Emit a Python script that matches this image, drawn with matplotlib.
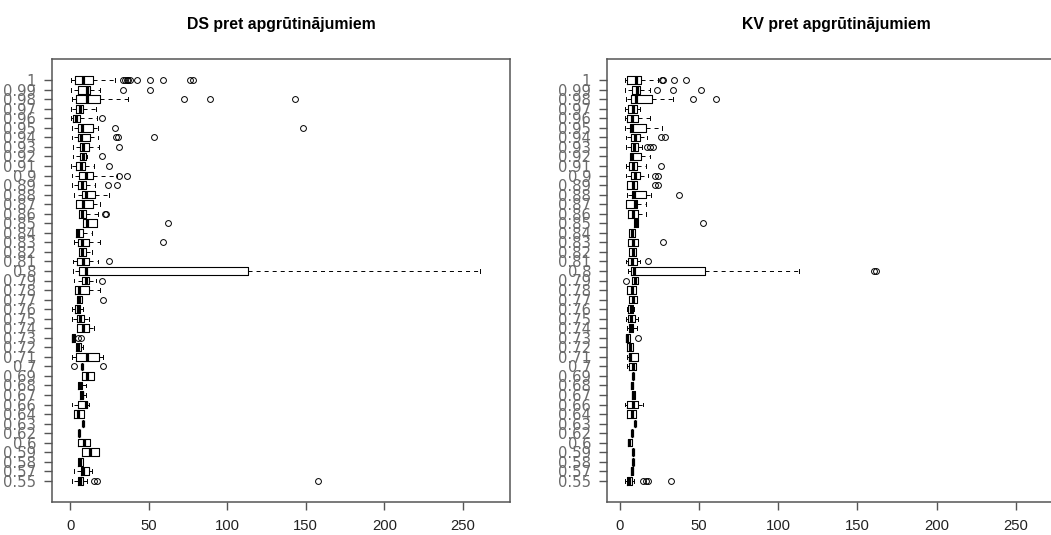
import matplotlib
matplotlib.use("Agg")
import matplotlib.pyplot as plt
from matplotlib import font_manager
from matplotlib.font_manager import FontProperties
from matplotlib.textpath import TextPath

# Threshold values on the vertical axis (bottom to top)
categories = ["0.55", "0.57", "0.58", "0.59", "0.6", "0.62", "0.63", "0.64", "0.66",
              "0.67", "0.68", "0.69", "0.7", "0.71", "0.72", "0.73", "0.74", "0.75",
              "0.76", "0.77", "0.78", "0.79", "0.8", "0.81", "0.82", "0.83", "0.84",
              "0.85", "0.86", "0.87", "0.88", "0.89", "0.9", "0.91", "0.92", "0.93",
              "0.94", "0.95", "0.96", "0.97", "0.98", "0.99", "1"]

# DS: five-number summaries and outliers per threshold
ds_lo  = [1.0, 2.5, 5.3, 7.4, 5.3, 5.9, 8.5, 2.3, 1.0, 6.4, 5.3, 7.8, 7.4, 1.0, 3.8, 1.0, 4.7, 1.0,
          1.0, 4.7, 3.2, 2.5, 2.1, 1.7, 5.9, 2.5, 3.8, 8.5, 5.7, 3.8, 2.5, 1.0, 1.0, 0.4, 1.7, 1.7,
          1.0, 1.0, 0.4, 0.4, 1.0, 0.4, 0.4]
ds_q1  = [4.9, 6.8, 5.3, 7.4, 5.3, 5.9, 8.5, 2.3, 5.3, 6.4, 5.3, 7.8, 7.4, 3.8, 3.8, 1.0, 4.7, 4.7,
          3.2, 4.7, 3.2, 7.4, 5.9, 4.7, 5.9, 5.3, 3.8, 8.5, 5.7, 3.8, 7.4, 5.3, 5.7, 3.8, 6.4, 6.4,
          5.3, 5.3, 2.1, 3.8, 3.8, 5.3, 3.2]
ds_med = [6.4, 8.5, 6.4, 12.7, 9.1, 5.9, 8.5, 5.3, 10.2, 7.4, 6.4, 11.0, 7.4, 11.0, 5.3, 2.1, 8.5, 6.4,
          4.9, 5.9, 5.9, 10.2, 10.0, 8.1, 7.8, 7.4, 5.3, 11.0, 7.4, 8.1, 10.2, 7.4, 10.2, 6.8, 8.1, 8.5,
          6.9, 7.4, 3.8, 6.4, 11.0, 10.6, 8.5]
ds_q3  = [8.3, 11.9, 8.5, 18.7, 12.7, 5.9, 8.5, 9.1, 11.0, 8.5, 7.4, 15.5, 7.4, 18.7, 6.8, 3.2, 12.3, 9.1,
          6.4, 7.4, 12.3, 12.3, 113.2, 11.9, 10.2, 12.3, 8.1, 17.0, 10.2, 14.8, 15.9, 10.2, 14.8, 9.5, 10.2, 12.3,
          12.7, 14.4, 6.4, 8.5, 19.1, 12.7, 14.8]
ds_hi  = [11.0, 13.8, 8.5, 18.7, 12.7, 5.9, 8.5, 9.1, 11.9, 10.2, 10.2, 15.5, 7.4, 21.2, 8.5, 3.2, 15.5, 12.3,
          8.5, 7.4, 19.1, 16.5, 261.0, 18.0, 13.8, 19.1, 13.8, 17.0, 18.0, 19.1, 25.0, 15.9, 29.7, 15.3, 11.0, 18.7,
          18.0, 18.0, 16.9, 16.5, 37.1, 19.1, 28.6]
ds_out = [[15.3, 17.0, 158.0], [], [], [], [], [], [], [], [], [], [], [], [2.5, 21.2], [], [], [4.9, 6.8],
          [], [], [], [20.7], [], [20.1], [], [25.0], [], [59.4], [], [62.5], [22.3, 22.6], [], [],
          [24.4, 29.7], [31.4, 36.0], [25.0], [20.1], [31.4], [29.3, 30.7, 53.4], [28.6, 148.0], [20.1], [],
          [72.3, 89.0, 143.0], [33.5, 50.9],
          [33.9, 35.0, 36.0, 37.0, 38.2, 42.4, 50.9, 59.4, 76.3, 78.4]]

# KV: five-number summaries and outliers per threshold
kv_lo  = [3.5, 7.1, 8.8, 8.8, 5.6, 7.7, 9.8, 4.9, 3.5, 7.7, 7.1, 8.3, 4.9, 4.9, 4.9, 4.1, 4.9, 4.1,
          4.9, 6.0, 4.9, 7.7, 5.6, 4.1, 6.0, 5.6, 6.0, 9.1, 5.6, 4.1, 4.5, 4.9, 4.1, 4.1, 6.6, 4.1,
          4.1, 3.5, 3.5, 3.5, 4.1, 3.5, 3.5]
kv_q1  = [4.9, 7.1, 8.8, 8.8, 5.6, 7.7, 9.8, 4.9, 4.9, 7.7, 7.1, 8.3, 6.0, 6.0, 4.9, 4.1, 6.0, 5.6,
          5.6, 6.0, 4.9, 7.7, 7.1, 5.6, 6.0, 5.6, 6.0, 9.1, 5.6, 4.1, 7.7, 4.9, 7.1, 6.0, 6.6, 7.1,
          7.1, 6.6, 4.9, 5.6, 7.1, 7.7, 4.9]
kv_med = [6.2, 7.7, 8.8, 8.8, 6.2, 7.7, 9.8, 7.7, 8.8, 8.8, 7.7, 8.3, 8.8, 6.6, 6.6, 4.9, 7.1, 7.1,
          7.1, 8.3, 7.7, 9.8, 9.3, 7.7, 8.3, 8.3, 7.7, 10.4, 8.8, 9.8, 9.1, 8.3, 9.8, 8.8, 7.7, 9.1,
          9.8, 7.7, 7.7, 8.3, 10.4, 10.8, 10.4]
kv_q3  = [7.7, 8.8, 8.8, 8.8, 7.7, 7.7, 9.8, 10.4, 11.5, 9.8, 8.8, 8.3, 10.4, 11.5, 8.3, 6.6, 8.8, 9.8,
          8.8, 10.8, 10.4, 11.5, 54.1, 10.8, 10.4, 11.9, 9.8, 11.5, 11.5, 10.8, 16.7, 10.8, 12.7, 10.8, 13.4, 11.5,
          12.7, 16.7, 11.5, 10.8, 20.3, 12.9, 13.4]
kv_hi  = [9.1, 8.8, 8.8, 8.8, 7.7, 7.7, 9.8, 10.4, 14.6, 9.8, 8.8, 8.3, 10.4, 11.5, 8.3, 6.6, 11.0, 11.5,
          9.4, 10.8, 10.4, 11.5, 113.4, 12.9, 10.4, 11.9, 9.8, 11.5, 16.7, 16.7, 19.6, 10.8, 18.1, 16.7, 19.2, 14.0,
          17.5, 26.6, 19.2, 12.9, 33.9, 19.2, 24.5]
kv_out = [[15.0, 16.7, 18.1, 32.5], [], [], [], [], [], [], [], [], [], [], [], [], [], [], [11.5],
          [], [], [], [], [], [4.1], [160.8, 161.6], [18.1], [], [27.2], [], [52.8], [], [], [37.7],
          [22.4, 24.5], [22.4, 24.5], [26.0], [], [17.1, 19.2, 20.9], [26.0, 28.7], [], [], [],
          [46.1, 60.8], [23.8, 33.9, 51.4], [27.0, 27.4, 34.4, 41.9]]

titles = ["DS pret apgrūtinājumiem", "KV pret apgrūtinājumiem"]
x_ticks = [0, 50, 100, 150, 200, 250]

plt.rcParams["font.family"] = ["Liberation Sans", "DejaVu Sans"]
plt.rcParams["lines.scale_dashes"] = False


def label_font(max_size=12.7, target_px=31.0):
    """Narrow sans face for the crowded threshold labels, sized so '0.99' stays compact."""
    narrow = ("condensed", "semi-condensed", "extra-condensed", "ultra-condensed")
    found = {}
    for f in font_manager.fontManager.ttflist:
        if f.style != "normal" or f.weight not in (400, "normal", "regular"):
            continue
        if f.name == "Liberation Sans Narrow" or str(f.stretch) in narrow:
            found.setdefault(f.name, f.fname)
    fp = None
    for name in ["Liberation Sans Narrow", "Liberation Sans", "Open Sans", "Roboto",
                 "Noto Sans", "DejaVu Sans"]:
        if name in found:
            fp = FontProperties(fname=found[name], size=max_size)
            break
    if fp is None:
        fp = FontProperties(family="Liberation Sans", size=max_size)
    width_px = TextPath((0, 0), "0.99", prop=fp).get_extents().width * 100 / 72
    fp.set_size(min(max_size, max_size * target_px / width_px))
    return fp


lab_fp = label_font()

W, H = 1051, 535
fig = plt.figure(figsize=(W / 100, H / 100), dpi=100)

axes_px = [(52, 59, 458, 443), (607, 59, 458, 443)]
xlims = [(-11.5, 280.0), (-7.9, 281.0)]
panels = [(ds_lo, ds_q1, ds_med, ds_q3, ds_hi, ds_out),
          (kv_lo, kv_q1, kv_med, kv_q3, kv_hi, kv_out)]

axis_col = "#555555"
positions = list(range(1, len(categories) + 1))

for (x0, y0, w, h), xl, data, title in zip(axes_px, xlims, panels, titles):
    ax = fig.add_axes([x0 / W, 1 - (y0 + h) / H, w / W, h / H])
    lo, q1, med, q3, hi, out = data
    stats = [dict(whislo=a, q1=b, med=c, q3=d, whishi=e, fliers=f)
             for a, b, c, d, e, f in zip(lo, q1, med, q3, hi, out)]
    ax.bxp(stats, positions=positions, orientation="horizontal", widths=0.8,
           capwidths=0.4, manage_ticks=False, patch_artist=False,
           boxprops=dict(color="black", linewidth=0.8),
           medianprops=dict(color="black", linewidth=2.3, solid_capstyle="butt"),
           whiskerprops=dict(color="black", linewidth=0.7, linestyle=(0, (2.9, 2.9))),
           capprops=dict(color="black", linewidth=0.7),
           flierprops=dict(marker="o", markerfacecolor="none", markeredgecolor="black",
                           markersize=4.2, markeredgewidth=0.7, linestyle="none"))
    ax.set_xlim(*xl)
    ax.set_ylim(-1.22, 45.22)
    ax.set_xticks(x_ticks)
    ax.set_xticklabels([str(t) for t in x_ticks], fontsize=10.7, color="#222222")
    ax.set_yticks(positions)
    ax.set_yticklabels(categories, fontproperties=lab_fp, color="#6a6a6a")
    ax.tick_params(axis="x", length=5.5, width=1.0, color=axis_col, pad=7)
    ax.tick_params(axis="y", length=5.5, width=1.0, color=axis_col, pad=5.8)
    for s in ax.spines.values():
        s.set_color(axis_col)
        s.set_linewidth(1.1)
    ax.set_title(title, fontsize=11.4, fontweight="bold", pad=21.4)

fig.savefig("out.png", dpi=100)
